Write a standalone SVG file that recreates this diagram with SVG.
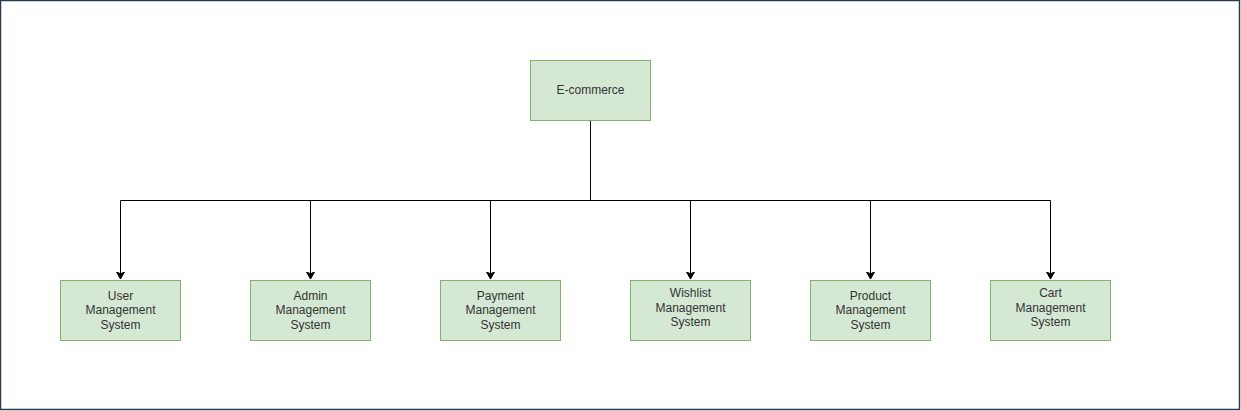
<svg xmlns="http://www.w3.org/2000/svg" width="1241" height="411" viewBox="0 0 1241 411">
<style>
.node{fill:#d5e8d4;stroke:#82b366;stroke-width:1}
.lbl{font-family:"Liberation Sans",Arial,sans-serif;font-size:12px;fill:#333;text-anchor:middle}
.edge{fill:none;stroke:#000;stroke-width:1}
</style>
<defs>
<marker id="arr" markerWidth="10" markerHeight="10" refX="7" refY="4" orient="auto" markerUnits="userSpaceOnUse">
<path d="M0,0 L7,4 L0,8 L1.75,4 Z" fill="#000" stroke="#000" stroke-width="1"/>
</marker>
</defs>
<rect x="0" y="0" width="1241" height="411" fill="#fff"/>
<rect x="0.5" y="0.5" width="1239" height="409" fill="none" stroke="#2b3a4f" stroke-width="1.5"/>
<g id="connectors">
<path class="edge" d="M590.5,120 V200.5"/>
<path class="edge" d="M120.5,200.5 H1050.5"/>
<path class="edge" d="M120.5,200.5 V279" marker-end="url(#arr)"/>
<path class="edge" d="M310.5,200.5 V279" marker-end="url(#arr)"/>
<path class="edge" d="M490.5,200.5 V279" marker-end="url(#arr)"/>
<path class="edge" d="M690.5,200.5 V279" marker-end="url(#arr)"/>
<path class="edge" d="M870.5,200.5 V279" marker-end="url(#arr)"/>
<path class="edge" d="M1050.5,200.5 V279" marker-end="url(#arr)"/>
</g>
<g id="ecommerce">
<rect class="node" x="530.5" y="60.5" width="120" height="60"/>
<text class="lbl" x="590.5" y="94">E-commerce</text>
</g>
<g id="user">
<rect class="node" x="60.5" y="280.5" width="120" height="60"/>
<text class="lbl" x="120.5" y="300">User</text>
<text class="lbl" x="120.5" y="314">Management</text>
<text class="lbl" x="120.5" y="329">System</text>
</g>
<g id="admin">
<rect class="node" x="250.5" y="280.5" width="120" height="60"/>
<text class="lbl" x="310.5" y="300">Admin</text>
<text class="lbl" x="310.5" y="314">Management</text>
<text class="lbl" x="310.5" y="329">System</text>
</g>
<g id="payment">
<rect class="node" x="440.5" y="280.5" width="120" height="60"/>
<text class="lbl" x="500.5" y="300">Payment</text>
<text class="lbl" x="500.5" y="314">Management</text>
<text class="lbl" x="500.5" y="329">System</text>
</g>
<g id="wishlist">
<rect class="node" x="630.5" y="280.5" width="120" height="60"/>
<text class="lbl" x="690.5" y="297">Wishlist</text>
<text class="lbl" x="690.5" y="312">Management</text>
<text class="lbl" x="690.5" y="326">System</text>
</g>
<g id="product">
<rect class="node" x="810.5" y="280.5" width="120" height="60"/>
<text class="lbl" x="870.5" y="300">Product</text>
<text class="lbl" x="870.5" y="314">Management</text>
<text class="lbl" x="870.5" y="329">System</text>
</g>
<g id="cart">
<rect class="node" x="990.5" y="280.5" width="120" height="60"/>
<text class="lbl" x="1050.5" y="297">Cart</text>
<text class="lbl" x="1050.5" y="312">Management</text>
<text class="lbl" x="1050.5" y="326">System</text>
</g>
</svg>
